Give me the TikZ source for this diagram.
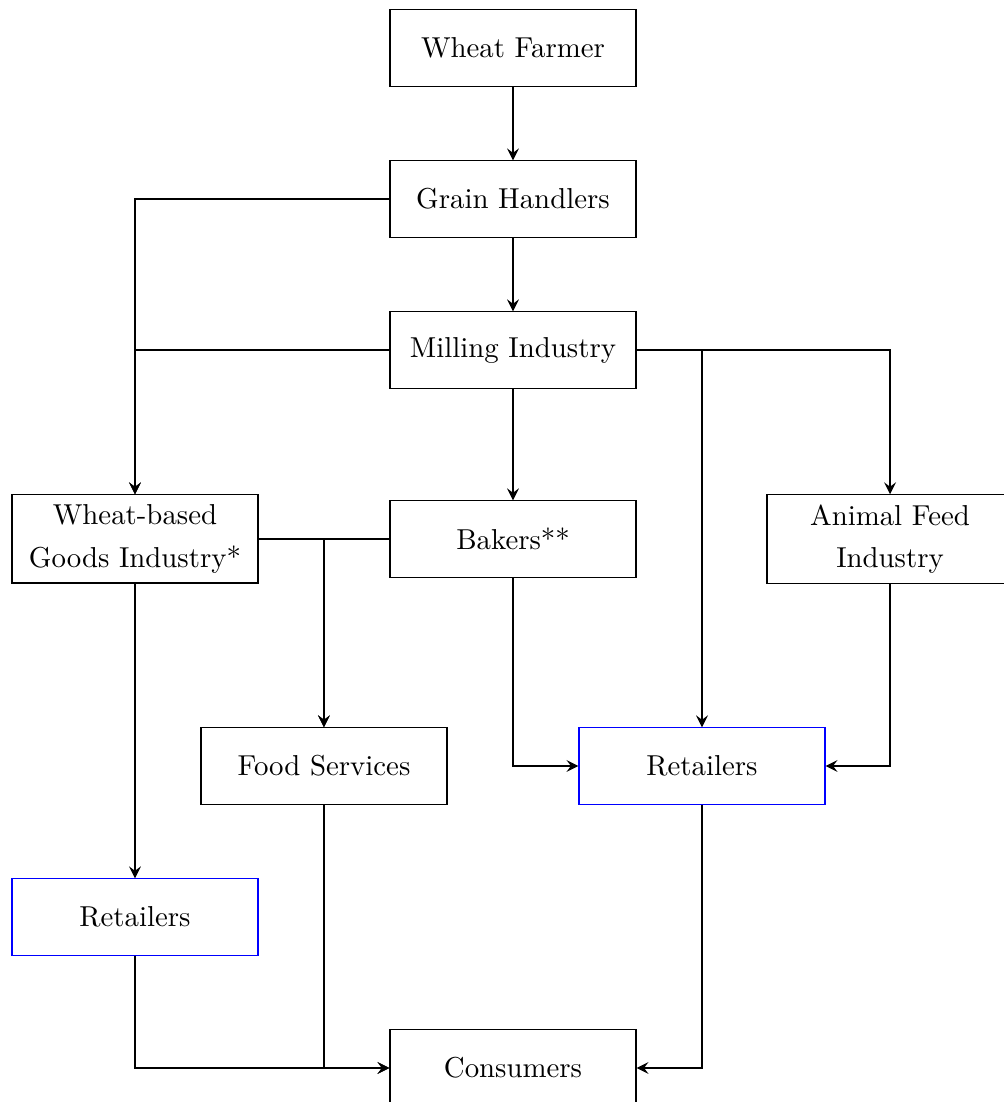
\documentclass[tikz,border=0pt]{standalone}
\usepackage{tikz}

\begin{document}
\begin{tikzpicture}
[Box/.style={rectangle,draw=black,fill=white,align=center, minimum width=30mm, minimum height=9.3mm},
TallBox/.style={Box,minimum height=10.75mm},
BlueBox/.style={Box,draw=blue},
Arrow/.style={thick,-stealth}]

\useasboundingbox (0,0) rectangle (12.244,-13.439);

% first row
\node[Box] (farmer) at (6.256,-0.585) {Wheat Farmer};
\node[Box] (grain) at (6.256,-2.427) {Grain Handlers};
\node[Box] (milling) at (6.256,-4.268) {Milling Industry};

% industries
\node[TallBox] (goods) at (1.646,-6.573) {Wheat-based\\[2.8pt]Goods Industry*};
\node[Box] (bakers) at (6.256,-6.573) {Bakers**};
\node[TallBox] (feed) at (10.854,-6.573) {Animal Feed\\[2.8pt]Industry};

% retail
\node[Box] (food) at (3.951,-9.341) {Food Services};
\node[BlueBox] (retailR) at (8.561,-9.341) {Retailers};
\node[BlueBox] (retailL) at (1.646,-11.183) {Retailers};

\node[Box] (consumers) at (6.256,-13.024) {Consumers};

% arrows
\draw[Arrow] (farmer) -- (grain);
\draw[Arrow] (grain) -- (milling);
\draw[Arrow] (grain.west) -| (goods.north);
\draw[Arrow] (milling.west) -| (goods.north);
\draw[Arrow] (milling) -- (bakers);
\draw[Arrow] (milling.east) -| (retailR.north);
\draw[Arrow] (milling.east) -| (feed.north);
\draw[Arrow] (goods.east) -| (food.north);
\draw[Arrow] (bakers.west) -| (food.north);
\draw[Arrow] (bakers.south) |- (retailR.west);
\draw[Arrow] (feed.south) |- (retailR.east);
\draw[Arrow] (goods) -- (retailL);
\draw[Arrow] (retailL.south) |- (consumers.west);
\draw[Arrow] (food.south) |- (consumers.west);
\draw[Arrow] (retailR.south) |- (consumers.east);

\end{tikzpicture}
\end{document}
